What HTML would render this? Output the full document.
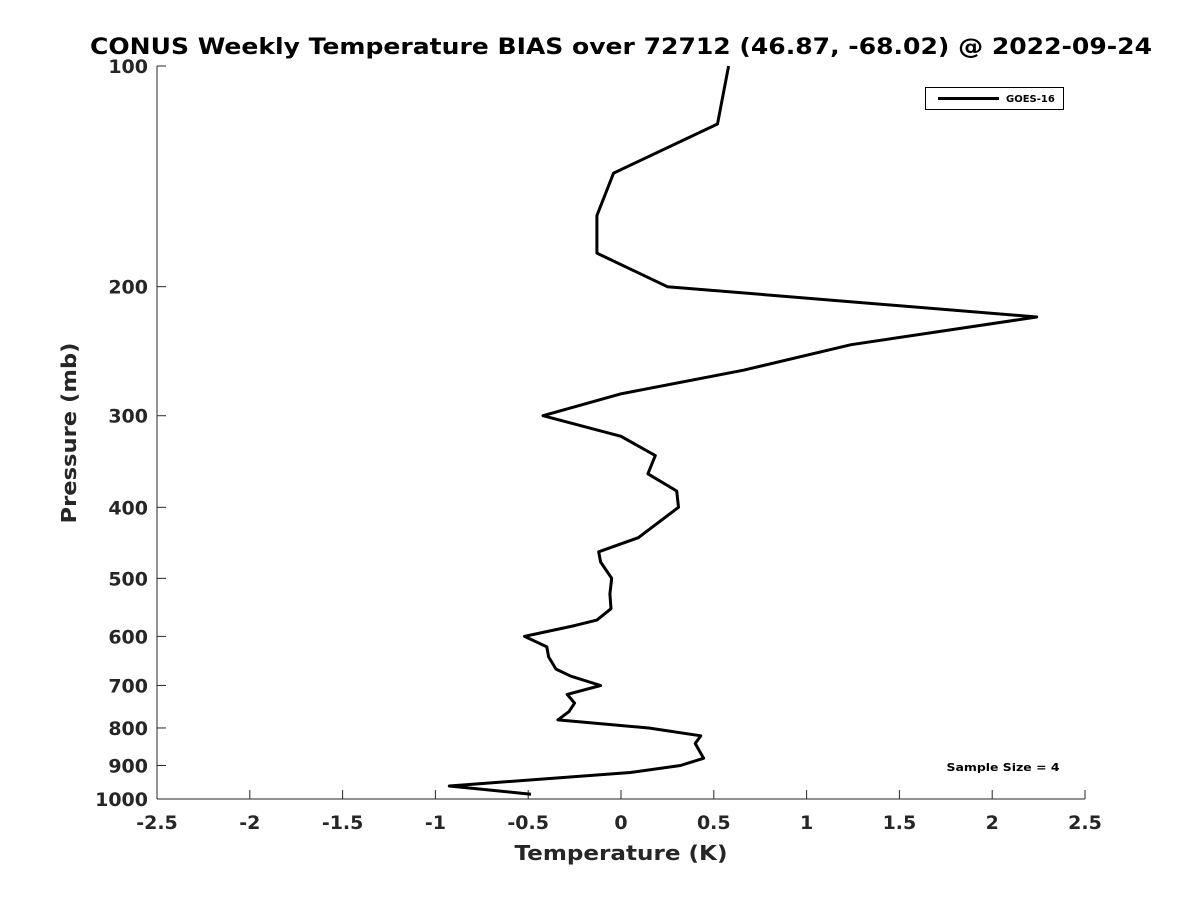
<!DOCTYPE html>
<html><head><meta charset="utf-8"><style>
body{margin:0;background:#fff}
svg{display:block;font-family:"DejaVu Sans","Liberation Sans",sans-serif}
</style></head><body>
<svg id="chart" width="1200" height="900">
<text x="621" y="54" text-anchor="middle" font-size="22" font-weight="bold" fill="#000" textLength="1062" lengthAdjust="spacingAndGlyphs">CONUS Weekly Temperature BIAS over 72712 (46.87, -68.02) @ 2022-09-24</text>
<g id="axes"></g>
<polyline id="line" fill="none" stroke="#000" stroke-width="3" stroke-linejoin="round"/>
<g>
<rect x="925.5" y="87.5" width="138" height="22" fill="#fff" stroke="#000" stroke-width="1"/>
<line x1="938" y1="98.5" x2="999" y2="98.5" stroke="#000" stroke-width="3"/>
<text x="1006" y="102" font-size="10" font-weight="bold" fill="#000">GOES-16</text>
</g>
<text x="1003" y="771" text-anchor="middle" font-size="11" font-weight="bold" fill="#000" textLength="113" lengthAdjust="spacingAndGlyphs">Sample Size = 4</text>
<text x="621" y="860" text-anchor="middle" font-size="20" font-weight="bold" fill="#262626" textLength="213" lengthAdjust="spacingAndGlyphs">Temperature (K)</text>
<text transform="translate(76,433) rotate(-90)" text-anchor="middle" font-size="20" font-weight="bold" fill="#262626" textLength="181" lengthAdjust="spacingAndGlyphs">Pressure (mb)</text>
</svg>
<script>
const xTicks=[-2.5,-2,-1.5,-1,-0.5,0,0.5,1,1.5,2,2.5];
const xTickLabels=["-2.5","-2","-1.5","-1","-0.5","0","0.5","1","1.5","2","2.5"];
const yTicks=[100,200,300,400,500,600,700,800,900,1000];
const yTickLabels=["100","200","300","400","500","600","700","800","900","1000"];
const pressures=[100,120,140,160,180,200,220,240,260,280,300,320,340,360,380,400,440,460,475,500,525,550,570,580,600,620,640,665,680,700,720,740,760,780,800,820,840,880,900,920,960,985];
const biasValues=[0.58,0.52,-0.04,-0.13,-0.13,0.25,2.24,1.24,0.66,0.0,-0.42,0.0,0.185,0.145,0.30,0.31,0.093,-0.12,-0.11,-0.05,-0.06,-0.054,-0.13,-0.25,-0.52,-0.40,-0.39,-0.35,-0.27,-0.11,-0.29,-0.25,-0.28,-0.34,0.15,0.43,0.40,0.445,0.32,0.05,-0.925,-0.485];
const X0=157,X1=1085,Y0=66,Y1=799;
const xs=v=>X0+(v+2.5)/5*(X1-X0);
const ys=p=>Y0+Math.log10(p/100)*(Y1-Y0);
const NS="http://www.w3.org/2000/svg";
const ax=document.getElementById('axes');
function mk(t,a){const e=document.createElementNS(NS,t);for(const k in a)e.setAttribute(k,a[k]);ax.appendChild(e);return e;}
let e=mk('line',{x1:X0,y1:Y0,x2:X0,y2:Y1,stroke:'#262626','stroke-width':1});


e=mk('line',{x1:X0,y1:Y1,x2:X1,y2:Y1,stroke:'#262626','stroke-width':1});


xTicks.forEach((v,i)=>{
  const x=xs(v);
  mk('line',{x1:x,y1:Y1,x2:x,y2:Y1-9,stroke:'#262626','stroke-width':1});
  const t=mk('text',{x:x,y:Y1+30,'text-anchor':'middle','font-size':19,'font-weight':'bold',fill:'#262626'});
  t.textContent=xTickLabels[i];
  
  
});
yTicks.forEach((p,i)=>{
  const y=ys(p);
  mk('line',{x1:X0,y1:y,x2:X0+9,y2:y,stroke:'#262626','stroke-width':1});
  const t=mk('text',{x:X0-9,y:y+7,'text-anchor':'end','font-size':19,'font-weight':'bold',fill:'#262626'});
  t.textContent=yTickLabels[i];
  
  
});
document.getElementById('line').setAttribute('points',pressures.map((p,i)=>xs(biasValues[i]).toFixed(1)+','+ys(p).toFixed(1)).join(' '));
</script>
</body></html>
